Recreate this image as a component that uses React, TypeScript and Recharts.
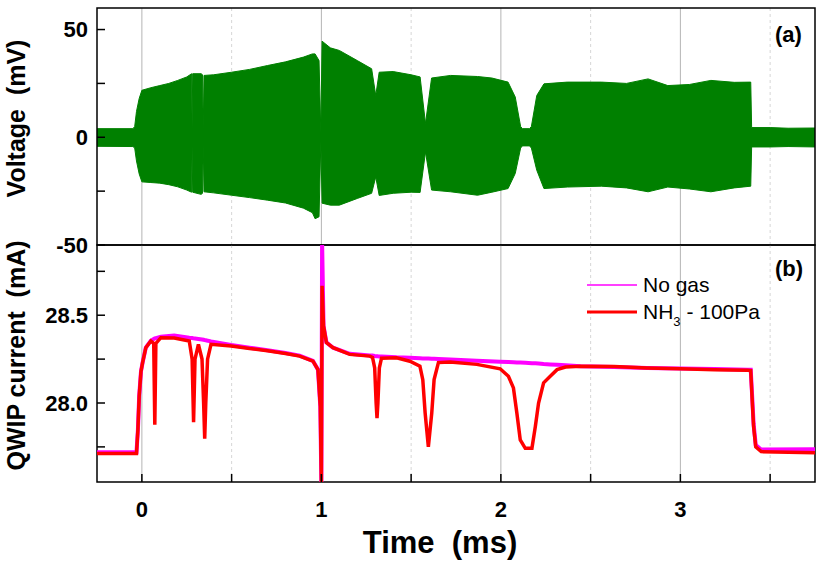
import { ComposedChart, Area, Line, XAxis, YAxis, CartesianGrid, ReferenceArea, Legend } from 'recharts'

const FONT = '"Liberation Sans", Arial, Helvetica, sans-serif'

// time axis (ms), shared by both panels
const timeDomain: [number, number] = [-0.25, 3.75]
const timeLabelTicks = [0, 1, 2, 3]
const timeHalfTicks = [0.5, 1.5, 2.5, 3.5]
const timeAllTicks = [0, 0.5, 1, 1.5, 2, 2.5, 3, 3.5]

// (a) laser voltage, envelope of the fast oscillation
const voltageDomain: [number, number] = [-50, 60]
const voltageTicks = [-50, 0, 50]
const voltageAllTicks = [-50, -25, 0, 25, 50]

const voltTime = [
  -0.25, -0.05, -0.04, -0.03, -0.015, 0.0, 0.05, 0.1, 0.15, 0.2, 0.25, 0.277, 0.28, 0.283, 0.33, 0.338,
  0.342, 0.346, 0.4, 0.5, 0.6, 0.7, 0.8, 0.9, 0.95, 0.965, 0.987, 0.997, 1.004, 1.05, 1.1, 1.2, 1.28,
  1.303, 1.322, 1.4, 1.5, 1.55, 1.58, 1.614, 1.72, 1.87, 1.95, 2.04, 2.08, 2.11, 2.12, 2.16, 2.17, 2.2,
  2.24, 2.37, 2.56, 2.7, 2.82, 2.93, 3.05, 3.17, 3.3, 3.392, 3.397, 3.5, 3.6, 3.75,
]
const voltHigh = [
  4.0, 4.0, 5, 12, 18, 21.8, 23, 24, 25, 26.4, 28, 29.5, 4, 29.5, 29.5, 29, 3, 28.7, 29, 30.2, 31.5, 33.3,
  35, 37.2, 38.7, 38.7, 35.6, 2, 44.6, 41.5, 40.3, 35.6, 31.8, 19.4, 30.2, 30.5, 29, 28, 6.4, 27.5, 28.7,
  28.2, 27.5, 25.6, 18.7, 5, 4, 4, 5, 19.4, 24.8, 25.6, 25.6, 25, 27.1, 24, 24.5, 26.4, 25.5, 25.6, 4.5,
  4.5, 4.2, 4.3,
]
const voltLow = [
  -4.2, -4.3, -5, -11, -17, -20.7, -21, -21.3, -22, -23, -24.5, -25.5, -4, -25.5, -26.5, -26, -3, -25.3,
  -25.8, -26.9, -28, -29.2, -30.5, -32.9, -35, -37.8, -36.9, -2, -30.6, -31.5, -31.5, -28.4, -26, -18.4,
  -27, -26, -25.5, -25.6, -6.8, -24.5, -25.3, -26.9, -25.5, -23.8, -16.8, -5, -4, -4, -5, -15.3, -23.8,
  -23.1, -22.7, -23.5, -25.3, -23.1, -24, -25.3, -23.5, -22.7, -4.5, -4.5, -4.3, -4.5,
]

// (b) QWIP current
const currentDomain: [number, number] = [27.55, 28.9]
const currentTicks = [28.0, 28.5]
const currentAllTicks = [27.75, 28.0, 28.25, 28.5, 28.75]

const curTime = [
  -0.25, -0.03, -0.022, -0.015, -0.005, 0.004, 0.022, 0.05, 0.066, 0.072, 0.078, 0.106, 0.18, 0.264, 0.28,
  0.288, 0.296, 0.315, 0.335, 0.344, 0.35, 0.356, 0.366, 0.385, 0.497, 0.6, 0.7, 0.8, 0.879, 0.953, 0.981,
  0.994, 1.0, 1.004, 1.012, 1.028, 1.065, 1.158, 1.27, 1.285, 1.297, 1.305, 1.31, 1.315, 1.323, 1.335,
  1.419, 1.493, 1.549, 1.565, 1.578, 1.596, 1.615, 1.628, 1.652, 1.717, 1.866, 1.996, 2.042, 2.07, 2.089,
  2.108, 2.136, 2.173, 2.192, 2.21, 2.238, 2.275, 2.313, 2.36, 2.444, 2.63, 2.815, 3.0, 3.19, 3.374, 3.392,
  3.402, 3.408, 3.42, 3.45, 3.75,
]
const noGas = [
  27.72, 27.72, 27.85, 28.04, 28.18, 28.23, 28.315, 28.355, 28.365, 28.368, 28.37, 28.378, 28.385, 28.372,
  28.37, 28.368, 28.367, 28.365, 28.362, 28.36, 28.358, 28.357, 28.355, 28.35, 28.33, 28.315, 28.3, 28.285,
  28.27, 28.24, 28.19, 27.98, 27.54, 28.92, 28.44, 28.345, 28.315, 28.28, 28.27, 28.27, 28.268, 28.267,
  28.267, 28.266, 28.265, 28.265, 28.26, 28.258, 28.255, 28.254, 28.254, 28.253, 28.252, 28.252, 28.251,
  28.248, 28.24, 28.235, 28.233, 28.232, 28.231, 28.23, 28.229, 28.227, 28.226, 28.225, 28.222, 28.22,
  28.218, 28.215, 28.21, 28.205, 28.2, 28.197, 28.193, 28.19, 28.19, 28.0, 27.88, 27.76, 27.735, 27.736,
]
const nh3 = [
  27.712, 27.712, 27.85, 28.04, 28.18, 28.23, 28.315, 28.353, 28.34, 27.876, 28.34, 28.372, 28.37, 28.353,
  28.25, 27.89, 28.25, 28.334, 28.25, 28.0, 27.796, 28.0, 28.25, 28.334, 28.325, 28.31, 28.298, 28.282,
  28.267, 28.238, 28.19, 27.98, 27.54, 28.668, 28.44, 28.344, 28.315, 28.277, 28.267, 28.26, 28.2, 28.0,
  27.914, 28.0, 28.2, 28.255, 28.258, 28.238, 28.21, 28.133, 27.944, 27.75, 27.944, 28.133, 28.23, 28.233,
  28.22, 28.195, 28.152, 28.086, 27.943, 27.79, 27.742, 27.742, 27.866, 28.0, 28.115, 28.152, 28.19,
  28.205, 28.21, 28.208, 28.2, 28.195, 28.19, 28.187, 28.185, 27.98, 27.866, 27.75, 27.723, 27.717,
]

const voltageData = voltTime.map((t, i) => ({ t, band: [voltLow[i], voltHigh[i]] }))
const currentData = curTime.map((t, i) => ({ t, noGas: noGas[i], nh3: nh3[i] }))

const ink = { stroke: '#000', strokeWidth: 1.5 }
const tickFont = { fill: '#000', fontSize: 22, fontWeight: 'bold', fontFamily: FONT }
const blank = () => ''
const timeLabel = (v: number) => (timeLabelTicks.includes(v) ? String(v) : '')
const voltLabel = (v: number) => (voltageTicks.includes(v) ? String(v) : '')
const currentLabel = (v: number) => (currentTicks.includes(v) ? v.toFixed(1) : '')

// eslint-disable-next-line @typescript-eslint/no-explicit-any
function YTitle(props: any) {
  const { viewBox, value } = props
  const cx = viewBox.x + 25
  const cy = viewBox.y + viewBox.height / 2 - 8
  return (
    <text
      x={cx}
      y={cy}
      transform={`rotate(-90 ${cx} ${cy})`}
      textAnchor="middle"
      fontFamily={FONT}
      fontSize={25}
      fontWeight="bold"
      fill="#000"
      style={{ whiteSpace: 'pre' }}
    >
      {value}
    </text>
  )
}

// eslint-disable-next-line @typescript-eslint/no-explicit-any
function XTitle(props: any) {
  const { viewBox, value } = props
  return (
    <text
      x={viewBox.x + viewBox.width / 2 - 16}
      y={viewBox.y + 71}
      textAnchor="middle"
      fontFamily={FONT}
      fontSize={31}
      fontWeight="bold"
      fill="#000"
      style={{ whiteSpace: 'pre' }}
    >
      {value}
    </text>
  )
}

const legendOrder = ['noGas', 'nh3']
const legendWidths: Record<string, number> = { noGas: 1.5, nh3: 3 }

// eslint-disable-next-line @typescript-eslint/no-explicit-any
function LegendBox({ payload }: any) {
  // eslint-disable-next-line @typescript-eslint/no-explicit-any
  const items = legendOrder.map((k) => (payload ?? []).find((p: any) => p.dataKey === k)).filter(Boolean)
  return (
    <div style={{ fontFamily: FONT, fontSize: 21, color: '#000' }}>
      {/* eslint-disable-next-line @typescript-eslint/no-explicit-any */}
      {items.map((entry: any) => (
        <div key={entry.dataKey} style={{ display: 'flex', alignItems: 'center', height: 26.7 }}>
          <svg width={50} height={6}>
            <line x1={0} x2={50} y1={3} y2={3} stroke={entry.color} strokeWidth={legendWidths[entry.dataKey]} />
          </svg>
          <span style={{ marginLeft: 6, whiteSpace: 'pre' }}>
            {entry.dataKey === 'nh3' ? (
              <>
                NH<span style={{ fontSize: 13, position: 'relative', top: 7 }}>3</span> - 100Pa
              </>
            ) : (
              'No gas'
            )}
          </span>
        </div>
      ))}
    </div>
  )
}

// integer grid lines solid, half-ms lines dashed (behind the data)
function gridLines(yAxisId: string) {
  return [
    <CartesianGrid
      key="gMaj"
      xAxisId="t"
      yAxisId={yAxisId}
      horizontal={false}
      verticalValues={timeLabelTicks}
      stroke="#b4b4b4"
      strokeWidth={1}
    />,
    <CartesianGrid
      key="gMin"
      xAxisId="t"
      yAxisId={yAxisId}
      horizontal={false}
      verticalValues={timeHalfTicks}
      stroke="#d6d6d6"
      strokeWidth={1}
      strokeDasharray="3 3"
    />,
  ]
}

const panelLabel = {
  position: 'absolute' as const,
  left: 775,
  fontFamily: FONT,
  fontSize: 22,
  fontWeight: 'bold' as const,
  lineHeight: '22px',
  color: '#000',
}

export default function App() {
  return (
    <div style={{ position: 'absolute', left: 0, top: 0, width: 830, height: 567, background: '#fff' }}>
      {/* (a) voltage */}
      <div style={{ position: 'absolute', left: 0, top: 0 }}>
        <ComposedChart width={830} height={262} data={voltageData} margin={{ top: 8, right: 15, bottom: 17, left: 0 }}>
          {gridLines('v')}
          <XAxis
            xAxisId="t"
            dataKey="t"
            type="number"
            domain={timeDomain}
            ticks={timeAllTicks}
            interval={0}
            allowDataOverflow
            height={0}
            tickSize={-8}
            tickFormatter={blank}
            axisLine={false}
            tickLine={ink}
          />
          <XAxis
            xAxisId="top"
            dataKey="t"
            type="number"
            domain={timeDomain}
            ticks={timeAllTicks}
            interval={0}
            allowDataOverflow
            orientation="top"
            height={0}
            tickSize={-8}
            tickFormatter={blank}
            axisLine={false}
            tickLine={ink}
          />
          <YAxis
            yAxisId="v"
            type="number"
            domain={voltageDomain}
            ticks={voltageAllTicks}
            interval={0}
            allowDataOverflow
            width={97}
            tickSize={-8}
            tickMargin={17}
            tickLine={ink}
            axisLine={false}
            tick={tickFont}
            tickFormatter={voltLabel}
            label={{ value: 'Voltage  (mV)', content: YTitle }}
          />
          <Area
            xAxisId="t"
            yAxisId="v"
            dataKey="band"
            type="linear"
            stroke="#008000"
            strokeWidth={1}
            fill="#008000"
            fillOpacity={1}
            dot={false}
            activeDot={false}
            isAnimationActive={false}
          />
          <ReferenceArea
            xAxisId="t"
            yAxisId="v"
            x1={timeDomain[0]}
            x2={timeDomain[1]}
            y1={voltageDomain[0]}
            y2={voltageDomain[1]}
            fill="none"
            fillOpacity={0}
            {...ink}
          />
        </ComposedChart>
      </div>

      {/* (b) QWIP current */}
      <div style={{ position: 'absolute', left: 0, top: 238 }}>
        <ComposedChart width={830} height={329} data={currentData} margin={{ top: 7, right: 15, bottom: 0, left: 0 }}>
          {gridLines('i')}
          <XAxis
            xAxisId="t"
            dataKey="t"
            type="number"
            domain={timeDomain}
            ticks={timeAllTicks}
            interval={0}
            allowDataOverflow
            height={85}
            tickSize={-8}
            tickMargin={27}
            tickLine={ink}
            axisLine={false}
            tick={tickFont}
            tickFormatter={timeLabel}
            label={{ value: 'Time  (ms)', content: XTitle }}
          />
          <YAxis
            yAxisId="i"
            type="number"
            domain={currentDomain}
            ticks={currentAllTicks}
            interval={0}
            allowDataOverflow
            width={97}
            tickSize={-8}
            tickMargin={17}
            tickLine={ink}
            axisLine={false}
            tick={tickFont}
            tickFormatter={currentLabel}
            label={{ value: 'QWIP current  (mA)', content: YTitle }}
          />
          <YAxis
            yAxisId="iR"
            type="number"
            domain={currentDomain}
            ticks={currentAllTicks}
            interval={0}
            orientation="right"
            allowDataOverflow
            width={0}
            tickSize={-8}
            tickFormatter={blank}
            axisLine={false}
            tickLine={ink}
          />
          <Legend
            content={LegendBox}
            layout="horizontal"
            verticalAlign="middle"
            align="center"
            wrapperStyle={{ left: 587, top: 34, width: 220 }}
          />
          <Line
            xAxisId="t"
            yAxisId="iR"
            dataKey="noGas"
            name="No gas"
            type="linear"
            stroke="#ff00ff"
            strokeWidth={4}
            dot={false}
            activeDot={false}
            isAnimationActive={false}
          />
          <Line
            xAxisId="t"
            yAxisId="i"
            dataKey="nh3"
            name="NH3 - 100Pa"
            type="linear"
            stroke="#ff0000"
            strokeWidth={3.5}
            dot={false}
            activeDot={false}
            isAnimationActive={false}
          />
          <ReferenceArea
            xAxisId="t"
            yAxisId="i"
            x1={timeDomain[0]}
            x2={timeDomain[1]}
            y1={currentDomain[0]}
            y2={currentDomain[1]}
            fill="none"
            fillOpacity={0}
            {...ink}
          />
        </ComposedChart>
      </div>

      <div style={{ ...panelLabel, top: 24 }}>(a)</div>
      <div style={{ ...panelLabel, top: 258 }}>(b)</div>
    </div>
  )
}
